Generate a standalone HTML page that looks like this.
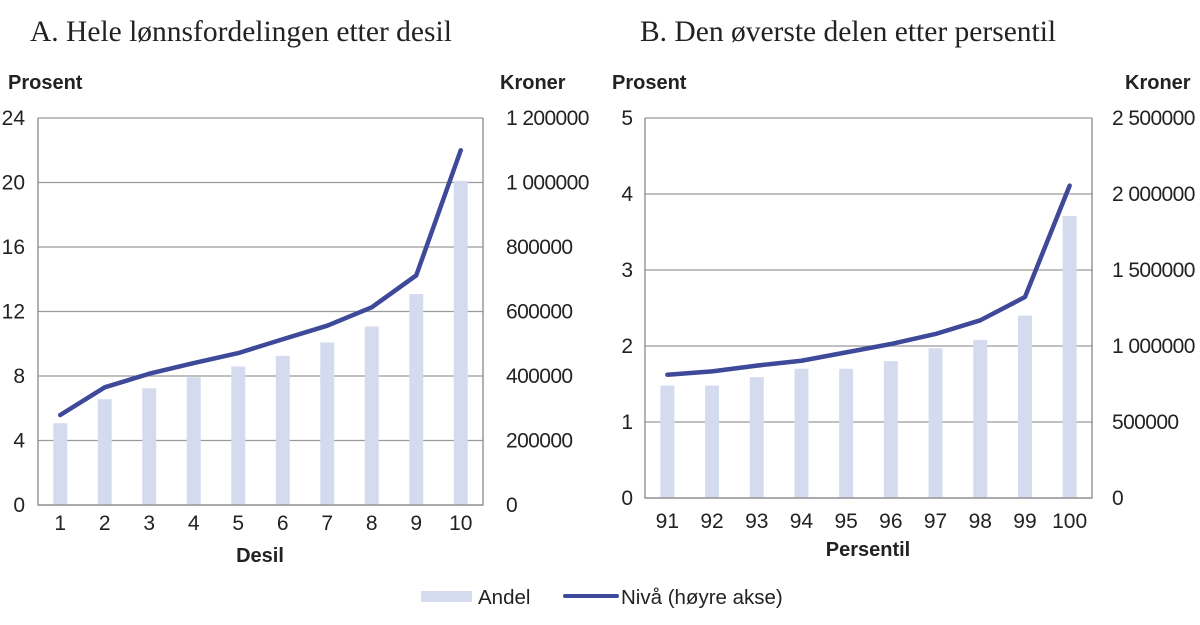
<!DOCTYPE html>
<html><head><meta charset="utf-8"><style>
body{margin:0;background:#fff;width:1200px;height:625px;overflow:hidden}
svg{display:block;font-family:"Liberation Sans",sans-serif;}
</style></head><body>
<svg id="c" width="1200" height="625">
<text x="30" y="41" font-family="Liberation Serif" font-size="29.5" fill="#222">A. Hele lønnsfordelingen etter desil</text>
<text x="640" y="41" font-family="Liberation Serif" font-size="29.5" fill="#222">B. Den øverste delen etter persentil</text>
<text x="8" y="89" font-size="20" font-weight="bold" fill="#222">Prosent</text>
<text x="500" y="89" font-size="20" font-weight="bold" fill="#222">Kroner</text>
<text x="612" y="89" font-size="20" font-weight="bold" fill="#222">Prosent</text>
<text x="1125" y="89" font-size="20" font-weight="bold" fill="#222">Kroner</text>
<text x="260" y="562" text-anchor="middle" font-size="20" font-weight="bold" fill="#222">Desil</text>
<text x="868" y="556" text-anchor="middle" font-size="20" font-weight="bold" fill="#222">Persentil</text>
<rect x="421" y="591" width="51" height="11" fill="#d5dbef"/>
<text x="478" y="604" font-size="20.5" fill="#222">Andel</text>
<line x1="565" y1="596" x2="617" y2="596" stroke="#3e4a99" stroke-width="4" stroke-linecap="round"/>
<text x="621" y="604" font-size="20.5" fill="#222">Nivå (høyre akse)</text>
</svg>
<script>
const catsA=["1","2","3","4","5","6","7","8","9","10"];
const andelA=[5.07,6.56,7.24,7.92,8.59,9.25,10.08,11.07,13.08,20.1];
const nivaA=[279000,365000,407000,440000,471000,514000,556000,613000,712000,1100000];
const leftTicksA=[0,4,8,12,16,20,24];
const rightTicksA=["0","200000","400000","600000","800000","1 000000","1 200000"];
const catsB=["91","92","93","94","95","96","97","98","99","100"];
const andelB=[1.48,1.48,1.59,1.70,1.70,1.80,1.97,2.08,2.40,3.71];
const nivaB=[811000,833000,871000,903000,958000,1013000,1079000,1169000,1322000,2055000];
const leftTicksB=[0,1,2,3,4,5];
const rightTicksB=["0","500000","1 000000","1 500000","2 000000","2 500000"];
const svg=document.getElementById('c');
const NS='http://www.w3.org/2000/svg';
function mk(tag,attrs){const e=document.createElementNS(NS,tag);for(const k in attrs)e.setAttribute(k,attrs[k]);svg.appendChild(e);return e;}
function panel(p,cats,andel,niva,lt,rt,L,R,T,B,lmax,rmax,ltx,rtx,xly){
  const y=v=>B-(v/lmax)*(B-T);
  const yr=v=>B-(v/rmax)*(B-T);
  const bw=(R-L)/cats.length;
  const x=i=>L+bw*(i+0.5);
  lt.forEach((t,i)=>{
    const g=mk('line',{x1:L,x2:R,y1:y(t),y2:y(t),stroke:'#9a9a9a','stroke-width':1.3});
    
    
    const tl=mk('text',{x:ltx,y:y(t)+7,'text-anchor':'end','font-size':21,fill:'#222'});tl.textContent=t;
    
    
    const tr=mk('text',{x:rtx,y:y(t)+7,'font-size':21,fill:'#222','letter-spacing':'-0.6'});tr.textContent=rt[i];
    
    
  });
  andel.forEach((v,i)=>{
    const b=mk('rect',{x:x(i)-7,y:y(v),width:14,height:B-y(v),fill:'#d5dbef'});
    
    
    const t=mk('text',{x:x(i),y:xly,'text-anchor':'middle','font-size':21,fill:'#222'});t.textContent=cats[i];
    
    
  });
  const ax=mk('path',{d:`M${L},${T}V${B}H${R}V${T}`,fill:'none',stroke:'#888','stroke-width':1.3});
  
  
  const ln=mk('polyline',{points:niva.map((v,i)=>x(i)+','+yr(v)).join(' '),fill:'none',stroke:'#3e4a99','stroke-width':4.5,'stroke-linecap':'round','stroke-linejoin':'round'});
  
  
}
panel('panel-a',catsA,andelA,nivaA,leftTicksA,rightTicksA,38,483,118,505,24,1200000,25,506,530);
panel('panel-b',catsB,andelB,nivaB,leftTicksB,rightTicksB,645,1092,118,498,5,2500000,633,1112,528);
</script>
</body></html>
